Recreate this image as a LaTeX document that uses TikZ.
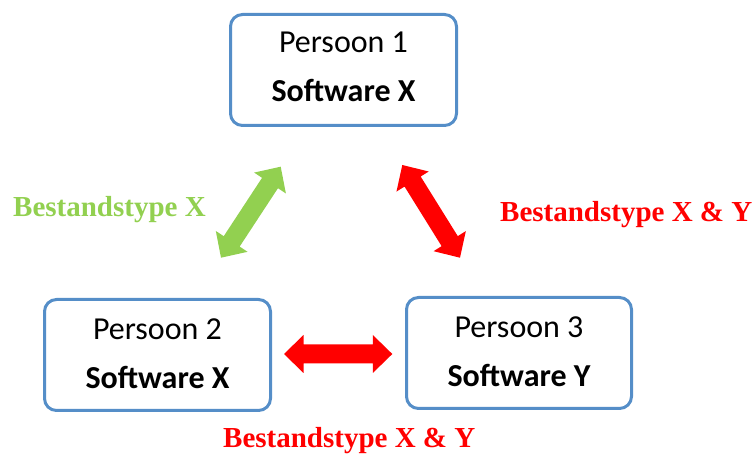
\documentclass[tikz,border=0pt]{standalone}
\usepackage{fontspec}
\setmainfont{Carlito}
\newfontfamily\lblfont{Liberation Serif}
\usetikzlibrary{calc}
\definecolor{boxblue}{RGB}{85,142,200}
\definecolor{lgreen}{HTML}{92D050}
\definecolor{bred}{HTML}{FF0000}
\newcommand\blockarrow[3]{%
  \coordinate (#1h) at ($(#1)!19.5pt!(#2)$);
  \coordinate (#2h) at ($(#2)!19.5pt!(#1)$);
  \fill[#3] (#1) -- ($(#1h)!19pt!90:(#2)$) -- ($(#1h)!9.5pt!90:(#2)$)
    -- ($(#2h)!9.5pt!-90:(#1)$) -- ($(#2h)!19pt!-90:(#1)$) -- (#2)
    -- ($(#2h)!19pt!90:(#1)$) -- ($(#2h)!9.5pt!90:(#1)$)
    -- ($(#1h)!9.5pt!-90:(#2)$) -- ($(#1h)!19pt!-90:(#2)$) -- cycle;}
\tikzset{
  pbox/.style={draw=boxblue, line width=3pt, rounded corners=12pt, fill=white,
    minimum width=226pt, minimum height=111pt, inner sep=0pt, outer sep=0pt},
  ptext/.style={anchor=base, inner sep=0pt, font=\fontsize{32}{38}\selectfont},
  stext/.style={anchor=base, inner sep=0pt, font=\fontsize{32}{38}\selectfont\bfseries},
  lbl/.style={anchor=base west, inner sep=0pt, font=\fontsize{29}{34}\selectfont\lblfont\bfseries}
}
\begin{document}
\begin{tikzpicture}[x=1pt,y=-1pt]
\useasboundingbox (0,0) rectangle (753,454);
% boxes
\node[pbox] (b1) at (343.5,70) {};
\node[pbox] (b2) at (157.5,355) {};
\node[pbox, minimum width=225pt] (b3) at (519,353) {};
% box texts
\node[ptext] (b1a) at (343.5,53) {Persoon 1};
\node[stext] (b1b) at (343.5,102) {Software X};
\node[ptext] (b2a) at (157.5,340) {Persoon 2};
\node[stext] (b2b) at (157.5,389) {Software X};
\node[ptext] (b3a) at (519,338) {Persoon 3};
\node[stext] (b3b) at (519,387) {Software Y};
% arrows
\coordinate (ga) at (221,257.7);
\coordinate (gb) at (280.7,166.7);
\coordinate (ra) at (402.3,165);
\coordinate (rb) at (460,257.7);
\coordinate (ha) at (284,354);
\coordinate (hb) at (392.3,354);
\blockarrow{ga}{gb}{lgreen}
\blockarrow{ra}{rb}{bred}
\blockarrow{ha}{hb}{bred}
% labels
\node[lbl, text=lgreen] (l1) at (13,217) {Bestandstype X};
\node[lbl, text=bred] (l2) at (500,222) {Bestandstype X \& Y};
\node[lbl, text=bred] (l3) at (223,447) {Bestandstype X \& Y};
\end{tikzpicture}
\end{document}
